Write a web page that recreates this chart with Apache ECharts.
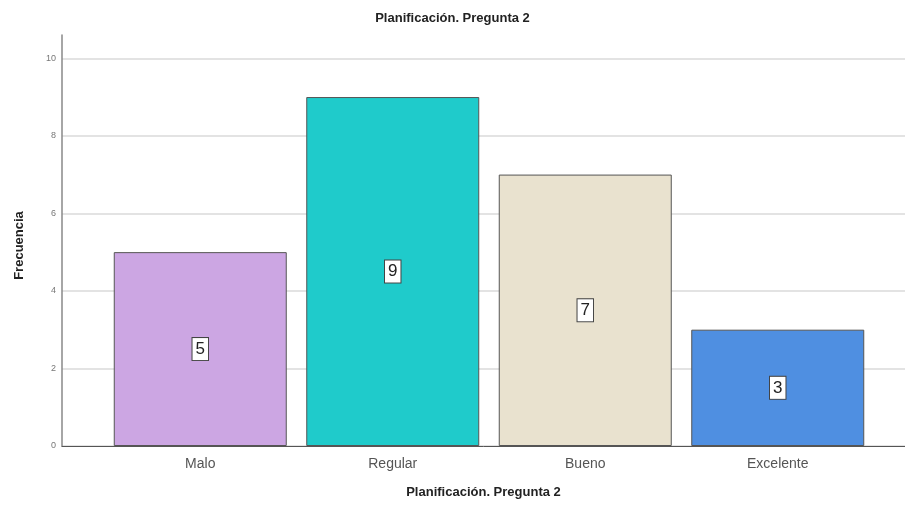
<!DOCTYPE html>
<html>
<head>
<meta charset="utf-8">
<script src="https://cdn.jsdelivr.net/npm/echarts@6/dist/echarts.min.js"></script>
<style>
  html, body { margin: 0; padding: 0; background: #ffffff; }
  #chart { width: 905px; height: 506px; }
</style>
</head>
<body>
<div id="chart"></div>
<script>
// Frequency of answers for "Planificación. Pregunta 2"
const categories = ['Malo', 'Regular', 'Bueno', 'Excelente'];
const frequencies = [5, 9, 7, 3];
const barColors = ['#CCA6E3', '#1FCBCB', '#E9E2CF', '#4F8FE1'];
const yTicks = [0, 2, 4, 6, 8, 10];

const Y_MAX = 10.6;
const TOP = 35;
const BOTTOM = 60;

// one gridline per tick; the line at the axis top stays hidden
const gridColors = yTicks.map(() => '#dadada').concat(['rgba(0,0,0,0)']);

const chart = echarts.init(document.getElementById('chart'));

chart.setOption({
  backgroundColor: '#ffffff',
  animation: false,
  title: {
    text: 'Planificación. Pregunta 2',
    left: 'center',
    top: 7,
    textStyle: { fontFamily: 'Liberation Sans, Arial, sans-serif', fontSize: 13, fontWeight: 'bold', color: '#222' }
  },
  grid: [
    // frame grid: y axis, gridlines and baseline across the full width
    { left: 62, right: 0, top: TOP, bottom: BOTTOM },
    // bar grid: the category bands sit inset from the y axis
    { left: 104, width: 770, top: TOP, bottom: BOTTOM }
  ],
  xAxis: [
    {
      gridIndex: 0, type: 'value', min: 0, max: 1,
      axisLine: { show: true, lineStyle: { color: '#555', width: 1 } },
      axisTick: { show: false }, axisLabel: { show: false }, splitLine: { show: false },
      name: 'Planificación. Pregunta 2',
      nameLocation: 'middle',
      nameGap: 40,
      nameTextStyle: { fontFamily: 'Liberation Sans, Arial, sans-serif', fontSize: 13, fontWeight: 'bold', color: '#222' }
    },
    {
      gridIndex: 1, type: 'category', data: categories,
      axisLine: { show: false }, axisTick: { show: false },
      axisLabel: { fontFamily: 'Liberation Sans, Arial, sans-serif', fontSize: 14, color: '#555', margin: 11 }
    }
  ],
  yAxis: [
    {
      gridIndex: 0, type: 'value', min: 0, max: Y_MAX, interval: 2,
      axisLine: { show: true, lineStyle: { color: '#888', width: 1.5 } },
      axisTick: { show: false },
      axisLabel: {
        fontFamily: 'Liberation Sans, Arial, sans-serif', fontSize: 9, color: '#777', margin: 6,
        formatter: v => (yTicks.indexOf(v) >= 0 ? String(v) : '')
      },
      splitLine: { show: true, lineStyle: { color: gridColors, width: 1.5 } },
      name: 'Frecuencia',
      nameLocation: 'middle',
      nameGap: 36,
      nameTextStyle: { fontFamily: 'Liberation Sans, Arial, sans-serif', fontSize: 13, fontWeight: 'bold', color: '#222', padding: [0, 10, 0, 0] }
    },
    {
      gridIndex: 1, type: 'value', min: 0, max: Y_MAX, interval: 2,
      show: false, splitLine: { show: false }
    }
  ],
  series: [
    {
      type: 'bar',
      xAxisIndex: 1, yAxisIndex: 1,
      barWidth: 173,
      data: frequencies.map((v, i) => ({
        value: v,
        itemStyle: { color: barColors[i], borderColor: '#555', borderWidth: 1 }
      })),
      label: {
        show: true,
        position: 'inside',
        fontFamily: 'Liberation Sans, Arial, sans-serif',
        fontSize: 17,
        color: '#222',
        backgroundColor: '#ffffff',
        borderColor: '#444',
        borderWidth: 1,
        padding: [3, 3, 2, 3]
      }
    }
  ]
});
</script>
</body>
</html>
